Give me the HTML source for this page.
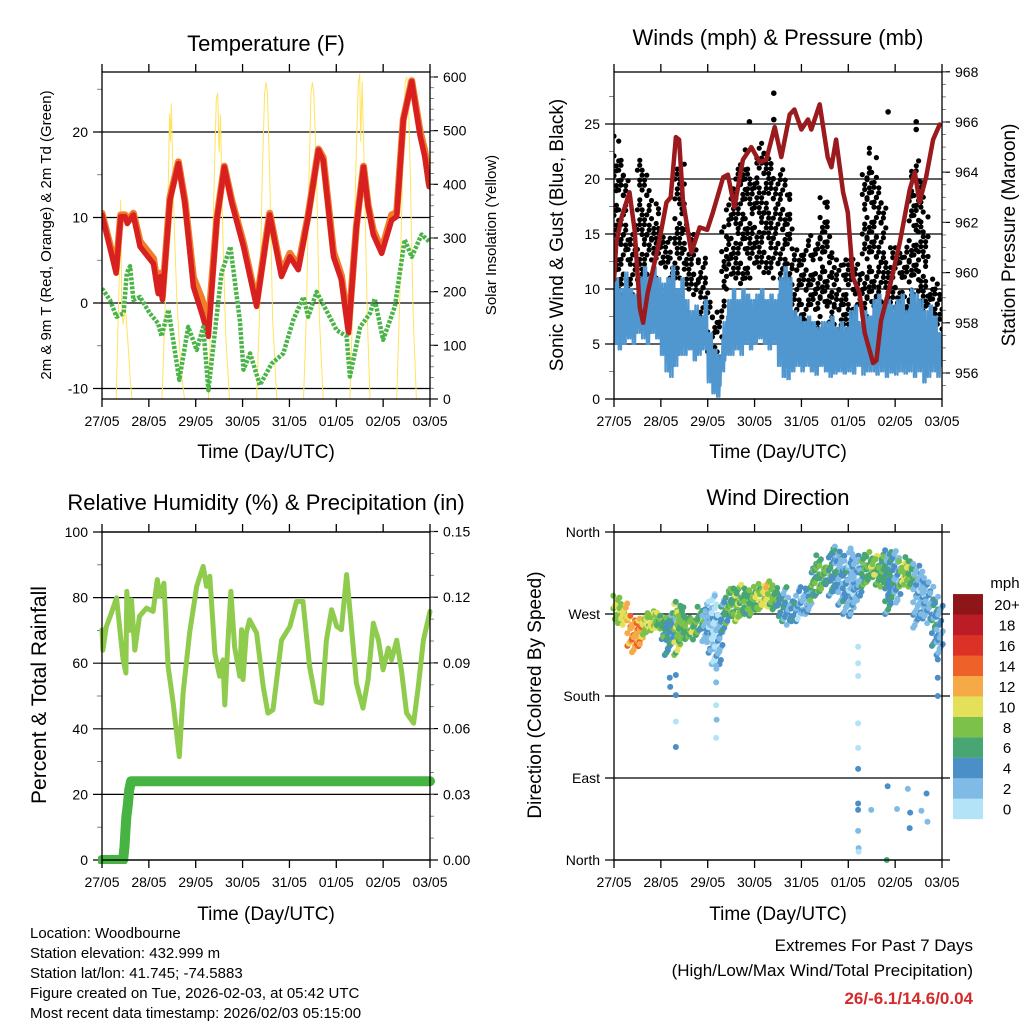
<!DOCTYPE html>
<html><head><meta charset="utf-8"><style>
html,body{margin:0;padding:0;background:#fff;}
svg{display:block;font-family:"Liberation Sans",Arial,sans-serif;}
</style></head><body>
<svg id="chart" width="1024" height="1024" viewBox="0 0 1024 1024" xmlns="http://www.w3.org/2000/svg">
<rect width="1024" height="1024" fill="#fff"/>
<defs>
<clipPath id="c1"><rect x="102" y="72" width="328" height="327"/></clipPath>
<clipPath id="c2"><rect x="614" y="72" width="328" height="327"/></clipPath>
<clipPath id="c3"><rect x="98" y="528" width="340" height="336"/></clipPath>
<clipPath id="c4"><rect x="608" y="526" width="340" height="340"/></clipPath>
</defs>
<g font-size="22" text-anchor="middle" fill="#000">
<text x="266" y="51">Temperature (F)</text>
<text x="778" y="45">Winds (mph) &amp; Pressure (mb)</text>
<text x="266" y="510">Relative Humidity (%) &amp; Precipitation (in)</text>
<text x="778" y="505">Wind Direction</text>
</g>
<g font-size="19" text-anchor="middle">
<text x="266" y="458">Time (Day/UTC)</text>
<text x="778" y="458">Time (Day/UTC)</text>
<text x="266" y="920">Time (Day/UTC)</text>
<text x="778" y="920">Time (Day/UTC)</text>
</g>
<text font-size="15" text-anchor="middle" transform="translate(51,235) rotate(-90)">2m &amp; 9m T (Red, Orange) &amp; 2m Td (Green)</text>
<text font-size="15" text-anchor="middle" transform="translate(496,235) rotate(-90)">Solar Insolation (Yellow)</text>
<text font-size="19" text-anchor="middle" transform="translate(563,235) rotate(-90)">Sonic Wind &amp; Gust (Blue, Black)</text>
<text font-size="19" text-anchor="middle" transform="translate(1015,235) rotate(-90)">Station Pressure (Maroon)</text>
<text font-size="21" text-anchor="middle" transform="translate(46,695) rotate(-90)">Percent &amp; Total Rainfall</text>
<text font-size="19" text-anchor="middle" transform="translate(541,695) rotate(-90)">Direction (Colored By Speed)</text>
<g font-size="15" fill="#000">
<text x="30" y="938">Location: Woodbourne</text>
<text x="30" y="958">Station elevation: 432.999 m</text>
<text x="30" y="978">Station lat/lon: 41.745; -74.5883</text>
<text x="30" y="998">Figure created on Tue, 2026-02-03, at 05:42 UTC</text>
<text x="30" y="1018">Most recent data timestamp: 2026/02/03 05:15:00</text>
</g>
<g font-size="17" text-anchor="end">
<text x="973" y="951">Extremes For Past 7 Days</text>
<text x="973" y="976">(High/Low/Max Wind/Total Precipitation)</text>
<text x="973" y="1004" fill="#d42a2a" font-weight="bold">26/-6.1/14.6/0.04</text>
</g>
</svg>
<script>
// ---------- data ----------
const dayLabels=['27/05','28/05','29/05','30/05','31/05','01/05','02/05','03/05'];
const tempDays=[0,.30,.40,.49,.54,.67,.81,1.10,1.20,1.25,1.29,1.45,1.63,1.77,1.95,2.13,2.27,2.45,2.61,2.77,3.02,3.30,3.58,3.83,4.01,4.19,4.40,4.62,4.72,4.94,5.11,5.26,5.43,5.58,5.68,5.79,5.97,6.18,6.29,6.43,6.61,6.79,6.89,6.98];
const temp2m=[10.3,3.5,10.1,10.1,9.3,10.3,6.6,4.6,1.1,3.1,0.4,12.0,16.3,11.7,1.9,-1.2,-3.9,9.7,15.9,11.7,6.6,-0.4,10.3,3.1,5.4,3.9,10.1,17.9,16.7,5.4,2.7,-3.5,8.9,15.9,11.3,8.0,5.8,9.7,10.1,21.4,25.9,19.5,17.1,13.6];
const temp9m=[10.5,4,10.3,10.3,9.6,10.5,7.2,5.2,1.5,3.5,0.8,12.3,16.5,12.0,3.0,0.5,-2.5,9.9,16.0,12.0,7.0,0.0,10.5,3.5,5.8,4.3,10.3,18.0,17.0,6.0,3.2,-3.0,9.0,16.0,11.5,8.5,6.2,10.3,10.6,21.5,26.0,20.0,17.8,14.0];
const tdDays=[0,.17,.31,.46,.53,.60,.67,.81,1.02,1.20,1.27,1.42,1.65,1.84,2.02,2.16,2.27,2.55,2.74,2.94,3.02,3.16,3.37,3.62,3.87,4.08,4.30,4.40,4.58,5.01,5.22,5.29,5.51,5.72,5.82,6.00,6.25,6.46,6.61,6.82,6.98];
const dewpoint=[1.7,.35,-1.6,-1.2,3.5,4.3,.35,.7,-1.2,-2.4,-3.9,-.8,-9.0,-2.8,-5.5,-2.8,-10.2,3.5,6.6,-2.0,-7.8,-5.9,-9.6,-7.1,-5.9,-2.0,.7,-1.6,1.3,-3.2,-3.9,-8.6,-2.8,-1.2,.5,-4.3,-.4,7.4,5.4,8.0,7.2];
const solarDays=[0,.30,.36,.40,.42,.45,.50,.55,.60,.64, 1.28,1.36,1.42,1.44,1.46,1.48,1.52,1.55,1.60,1.68,1.76, 2.27,2.34,2.40,2.44,2.47,2.50,2.53,2.58,2.64,2.72, 3.30,3.36,3.42,3.47,3.50,3.53,3.58,3.64,3.73, 4.30,4.36,4.42,4.46,4.49,4.52,4.58,4.64,4.72, 5.29,5.35,5.42,5.47,5.50,5.52,5.55,5.60,5.66,5.72, 6.29,6.35,6.42,6.47,6.50,6.53,6.58,6.64,6.71,7.0];
const solar=[0,0,200,370,180,140,170,110,40,0, 0,200,420,530,480,550,400,300,180,60,0, 0,200,430,560,570,460,530,300,120,0, 0,150,420,570,590,570,420,150,0, 0,150,420,570,590,570,420,150,0, 0,170,440,590,605,480,590,420,160,0, 0,170,440,590,600,585,420,160,0,0];
const presDays=[0,.05,.16,.33,.44,.55,.62,.72,.94,1.12,1.21,1.32,1.39,1.47,1.65,1.83,1.99,2.11,2.33,2.43,2.57,2.75,2.93,3.11,3.25,3.43,3.57,3.75,3.85,4.00,4.14,4.21,4.39,4.56,4.64,4.74,4.89,4.99,5.10,5.24,5.35,5.53,5.60,5.70,5.88,6.10,6.31,6.42,6.52,6.66,6.81,6.95];
const pressure=[959.7,961.2,962.2,963.2,961.7,958.6,958.0,959.2,961.0,962.8,963.0,965.4,965.3,962.9,960.8,961.8,961.7,962.4,963.8,963.9,962.6,964.5,965.0,964.4,964.5,965.8,964.6,966.3,966.5,965.7,966.1,965.7,966.7,964.6,964.2,965.3,963.2,962.4,959.8,959.2,957.6,956.4,956.5,958.1,959.4,961.2,963.3,964.0,962.8,963.8,965.3,965.9];
// wind values per 0.1 day bin
const windHi=[11,10,11.5,10,9.5,11,12,11,12,11,10.5,11,12,10,11,9,8,8.5,7.5,9,6,4.5,4,7,9,10,9,10,9.5,9,9.5,10,9,9.5,9,11,12,11,8,7.5,7,7.5,7,6.5,7,7,7.5,6.5,7,6.5,8,8.5,7,8,7.5,9,9.5,8.5,9,8.5,9,9.5,8,10,9.5,9,8,8.5,7.5,6];
const windLo=[5,4.5,5,5.5,5,6,5.5,5,6,5.5,4,2.5,2,3,4,4,4.5,3.5,4,4.5,1.5,0.5,0.2,2.5,4,4,4.5,4,5,4.5,5,5.5,5,4.5,5,3,2,1.8,2.5,3,2.5,3,2.5,2.2,3,2.5,2,2.3,2.5,2.3,2.5,2.3,3,2.2,2.5,2.5,2.2,2.5,2,2.4,2.2,2.5,2.3,2.5,2,2.5,1.5,2,2.5,2];
const gustHi=[24,22,21,15,16,22,21,19,18,17.5,15,14.5,15,21,21.5,16,15,14,13.5,13,9,7.5,8,16,18,20,21,23,22,21,22,23.5,23,22,21,21,20,19,14,13.5,14,15,14,15,18.5,18,13.5,13,12.5,13,13,14,12.5,21,23,22,20,19,14,14,13.5,13,14,21,22,20,17,10,11,10.5];
const gustLo=[9.5,10,9.5,10,9.5,10,10,9.5,11,11,12,12,11,11,11,10,10,9.5,7,6.5,2.5,2,2.5,8,10,11,11,10.5,11,11,12,12,11.5,11.5,11,10.5,10,10.5,5,4.5,5,4.5,5,6,7.5,8,7,5,4.5,5,5,5.5,5,6,7.5,8,7.5,7,7,7,6.5,7,7.5,9,9.5,8,8,5,5.5,5];
const gustOutDays=[3.41,2.89,3.41,5.85,6.45,6.45];
const gustOut=[27.8,25.2,25.4,26.1,25.2,24.5];
const rhDays=[0,.02,.09,.2,.31,.45,.51,.53,.59,.63,.70,.80,.95,1.09,1.18,1.23,1.32,1.41,1.52,1.65,1.73,1.87,2.02,2.16,2.23,2.30,2.41,2.51,2.58,2.62,2.69,2.75,2.83,2.94,2.98,3.01,3.08,3.15,3.30,3.44,3.54,3.65,3.83,4.01,4.15,4.29,4.43,4.57,4.69,4.79,4.90,5.01,5.11,5.22,5.31,5.43,5.57,5.68,5.79,5.90,6.00,6.11,6.18,6.29,6.39,6.50,6.65,6.75,6.86,7.0];
const rh=[70.2,64,71,75.3,79.9,61,57,81.9,70,79.3,64,74.3,76.8,75.8,85.5,80.4,84.4,59,47.8,31.5,50.9,69.2,83.4,89.5,83.4,86.5,63,56,61,47.3,67,81.9,65,56,70.2,55,69.2,73.2,69.2,52.9,44.8,45.8,67,71.2,78.8,78.8,59,48.3,47.8,67,76.3,71.2,70.2,87,73.2,53.9,46.3,55,72.2,67,58,64.6,61,67,58,44.8,41.7,52.9,67,75.8];
const precipDays=[0,0.45,0.48,0.50,0.52,0.55,0.58,0.62,7];
const precip=[0,0,0.006,0.013,0.02,0.025,0.032,0.036,0.036];
// wind direction per 0.1-day bin: low dir, high dir, typical speed
const dirLow=[262,260,258,235,228,232,245,250,252,255,240,225,238,225,240,240,245,242,250,240,225,215,210,250,260,265,262,268,270,268,272,275,280,278,275,265,262,258,262,262,268,270,285,290,295,300,290,295,280,270,265,280,285,300,305,308,302,300,270,285,280,300,302,300,255,265,265,260,235,225];
const dirHigh=[290,285,282,268,265,267,272,270,275,272,270,265,272,285,278,268,265,270,280,275,285,292,270,285,300,298,302,295,298,300,300,305,310,302,300,295,300,288,285,300,295,298,325,335,325,322,345,340,340,330,345,338,330,335,338,335,330,335,340,340,338,330,333,328,325,320,310,300,290,280];
const dirSpeed=[9,9,10,12,13,12,9,8,8,8,6,5,4,8,7,7,8,7,6,3,2,1,2,4,6,7,8,7,6,7,8,9,10,8,7,4,4,3,4,2,3,3,6,6,7,6,4,4,3,4,2,3,2,7,7,8,6,7,4,4,3,8,8,7,3,2,3,2,4,3];
const outDays=[1.19,1.20,1.32,1.32,1.32,1.32,2.18,2.18,2.18,2.19,2.18,5.21,5.21,5.21,5.21,5.21,5.21,5.21,5.21,5.21,5.22,5.22,6.91,6.91,6.91,5.84,6.27,6.67,5.49,6.04,6.32,6.31,6.56,6.69,5.82];
const outDir=[200,190,203,181,152,124,213,195,170,154,134,234,216,202,150,123,100,62,55,32,13,9,220,200,180,81,78,73,55,56,52,35,54,42,0];
const outSpeed=[4,4,4,4,1,4,2,2,1,2,1,1,1,0,1,1,4,4,4,2,3,1,4,4,4,4,2,4,2,2,4,4,2,2,6];
const speedColors=['#b3e3f7','#80bbe5','#4a8fc7','#48a672','#7cc24a','#e5e05a','#f6aa45','#ee6229','#dc3127','#bc1c25','#8e1618'];
const speedLabels=['0','2','4','6','8','10','12','14','16','18','20+'];

// ---------- helpers ----------
const NS='http://www.w3.org/2000/svg';
const svg=document.getElementById('chart');
function mk(tag,attrs,parent){const e=document.createElementNS(NS,tag);for(const k in attrs)e.setAttribute(k,attrs[k]);(parent||svg).appendChild(e);return e;}
function mkX(P){return d=>P.x0+d/7*(P.x1-P.x0);}
const P1={x0:102,x1:430,y0:72,y1:399};
const P2={x0:614,x1:942,y0:72,y1:399};
const P3={x0:102,x1:430,y0:532,y1:860};
const P4={x0:614,x1:942,y0:532,y1:860};
const x1=mkX(P1),x2=mkX(P2),x3=mkX(P3),x4=mkX(P4);
const yT=v=>303-v*8.55, yS=v=>399-v*0.5367;
const yW=v=>399-v*11, yP=v=>122-(v-966)*25.1;
const yRH=v=>860-v*3.28, yPr=v=>860-v*2190;
const yD=v=>860-v*(328/360);

function frame(P,name,xfn){
  const g=mk('g',{stroke:'#000','stroke-width':1.3,fill:'none'});
  
  
  mk('rect',{x:P.x0,y:P.y0,width:P.x1-P.x0,height:P.y1-P.y0},g);
  for(let i=0;i<=7;i++){
    const x=xfn(i);
    mk('line',{x1:x,y1:P.y0,x2:x,y2:P.y0-8},g);
    mk('line',{x1:x,y1:P.y1,x2:x,y2:P.y1+8},g);
    const t=mk('text',{x:x,y:P.y1+27,'font-size':14,'text-anchor':'middle',fill:'#000',stroke:'none'});
    
    
    t.textContent=dayLabels[i];
  }
  return g;
}
function leftAxis(P,name,vals,labels,yfn,minor,grid,gridRight){
  const g=mk('g',{stroke:'#000','stroke-width':1.2,fill:'none'});
  
  
  vals.forEach((v,i)=>{
    const y=yfn(v);
    mk('line',{x1:P.x0-9,y1:y,x2:grid?(gridRight||P.x1):P.x0,y2:y},g);
    const t=mk('text',{x:P.x0-14,y:y+5,'font-size':14,'text-anchor':'end',fill:'#000',stroke:'none'});
    
    
    t.textContent=labels[i];
  });
  minor.forEach(v=>{const y=yfn(v);mk('line',{x1:P.x0-5,y1:y,x2:P.x0,y2:y,'stroke-width':0.8,stroke:'#666'},g);});
}
function rightAxis(P,name,vals,labels,yfn,minor){
  const g=mk('g',{stroke:'#000','stroke-width':1.2,fill:'none'});
  
  
  vals.forEach((v,i)=>{
    const y=yfn(v);
    mk('line',{x1:P.x1,y1:y,x2:P.x1+8,y2:y},g);
    const t=mk('text',{x:P.x1+13,y:y+5,'font-size':14,'text-anchor':'start',fill:'#000',stroke:'none'});
    
    
    t.textContent=labels[i];
  });
  minor.forEach(v=>{const y=yfn(v);mk('line',{x1:P.x1,y1:y,x2:P.x1+4,y2:y,'stroke-width':0.8,stroke:'#666'},g);});
}
function line(name,days,vals,xfn,yfn,color,w,clip,extra){
  const pts=days.map((d,i)=>xfn(d).toFixed(1)+','+yfn(vals[i]).toFixed(1)).join(' ');
  const a={points:pts,fill:'none',stroke:color,'stroke-width':w,'stroke-linejoin':'round','stroke-linecap':'round','clip-path':'url(#'+clip+')'};
  if(extra)Object.assign(a,extra);
  const e=mk('polyline',a);
  
  
  return e;
}
function range(a,b,s){const r=[];for(let v=a;v<=b+1e-9;v+=s)r.push(+v.toFixed(3));return r;}

// ---------- panel 1: temperature ----------
leftAxis(P1,'temp-left-axis',[-10,0,10,20],['-10','0','10','20'],yT,range(-5,25,10),true);
rightAxis(P1,'solar-right-axis',[0,100,200,300,400,500,600],['0','100','200','300','400','500','600'],yS,range(20,600,20));
line('solar-insolation-line',solarDays,solar,x1,yS,'#ffe35e',1,'c1');
line('temp-9m-line',tempDays,temp9m,x1,yT,'#f07d2a',7,'c1');
line('temp-2m-line',tempDays,temp2m,x1,yT,'#d7201f',5.5,'c1');
line('dewpoint-line',tdDays,dewpoint,x1,yT,'#4bb448',4.5,'c1',{'stroke-dasharray':'3 1.5','stroke-linecap':'butt'});
frame(P1,'temp-panel',x1);

// ---------- panel 2: winds & pressure ----------
leftAxis(P2,'wind-left-axis',[0,5,10,15,20,25],['0','5','10','15','20','25'],yW,range(2.5,27.5,5),true);
rightAxis(P2,'pressure-right-axis',[956,958,960,962,964,966,968],['956','958','960','962','964','966','968'],yP,range(955.5,968,0.5));
const gGust=mk('g',{fill:'#000','clip-path':'url(#c2)'});


gustHi.forEach((hi,i)=>{
  const lo=gustLo[i];
  for(let k=0;k<2;k++){
    const d=i*0.1+0.025+k*0.05;
    let r=0;
    for(let v=lo+(k?0.45:0);v<=hi;v+=0.9,r++){
      if((r+i+k)%5===0) continue;
      const c=mk('circle',{cx:(x2(d)+((r%2)?1.2:-1.2)).toFixed(1),cy:yW(v).toFixed(1),r:2.6},gGust);
      
    }
  }
});
gustOut.forEach((v,i)=>{
  const c=mk('circle',{cx:x2(gustOutDays[i]),cy:yW(v),r:2.8},gGust);
  
});
const wDays=[],wVals=[];
windHi.forEach((hi,i)=>{for(let k=0;k<8;k++){wDays.push(i*0.1+k*0.0125);wVals.push(k%2?hi-(k%4===1?1.5:0):windLo[i]+(k%4===2?1:0));}});
line('wind-speed-line',wDays,wVals,x2,yW,'#5096cf',2.2,'c2');
line('pressure-line',presDays,pressure,x2,yP,'#9a1a1d',4.5,'c2');
frame(P2,'winds-panel',x2);

// ---------- panel 3: humidity & precip ----------
leftAxis(P3,'humidity-left-axis',[0,20,40,60,80,100],['0','20','40','60','80','100'],yRH,range(10,90,20),true);
rightAxis(P3,'precip-right-axis',[0,0.03,0.06,0.09,0.12,0.15],['0.00','0.03','0.06','0.09','0.12','0.15'],yPr,range(0.01,0.15,0.01));
line('humidity-line',rhDays,rh,x3,yRH,'#8fcb4d',5,'c3');
line('precip-line',precipDays,precip,x3,yPr,'#47b343',10,'c3');
frame(P3,'humidity-panel',x3);

// ---------- panel 4: wind direction ----------
leftAxis(P4,'direction-left-axis',[0,90,180,270,360],['North','East','South','West','North'],yD,[],true,950);
const gDir=mk('g',{'clip-path':'url(#c4)'});


function spColor(s){return speedColors[Math.max(0,Math.min(10,Math.floor(s/2)))];}
dirLow.forEach((lo,i)=>{
  const hi=dirHigh[i];
  for(let k=0;k<3;k++){
    const d=i*0.1+0.017+k*0.033;
    let row=0;
    for(let v=lo+k*2.5;v<=hi;v+=7,row++){
      if((row*7+k*3+i)%5===0) continue;
      const s=dirSpeed[i]+(((row+k+i)%3===0)?2:((row+k)%4===1?-1:0));
      const c=mk('circle',{cx:(x4(d)+((row%2)?1.5:-1.5)).toFixed(1),cy:yD(v).toFixed(1),r:3,fill:spColor(s)},gDir);
      
    }
  }
});
outDays.forEach((d,i)=>{
  const c=mk('circle',{cx:x4(d),cy:yD(outDir[i]),r:3,fill:spColor(outSpeed[i])},gDir);
  
});
frame(P4,'direction-panel',x4);
mk('line',{x1:942,y1:614,x2:950,y2:614,stroke:'#000'});

// colorbar
const gCB=mk('g',{});


const cbT=mk('text',{x:1005,y:588,'font-size':15,'text-anchor':'middle'},gCB);

cbT.textContent='mph';
speedColors.forEach((c,i)=>{
  const y=819-(i+1)*20.45;
  const r=mk('rect',{x:953,y:y,width:30,height:20.6,fill:c},gCB);
  
  const t=mk('text',{x:1007,y:y+16,'font-size':15,'text-anchor':'middle'},gCB);
  
  t.textContent=speedLabels[i];
});
</script>
</body></html>
